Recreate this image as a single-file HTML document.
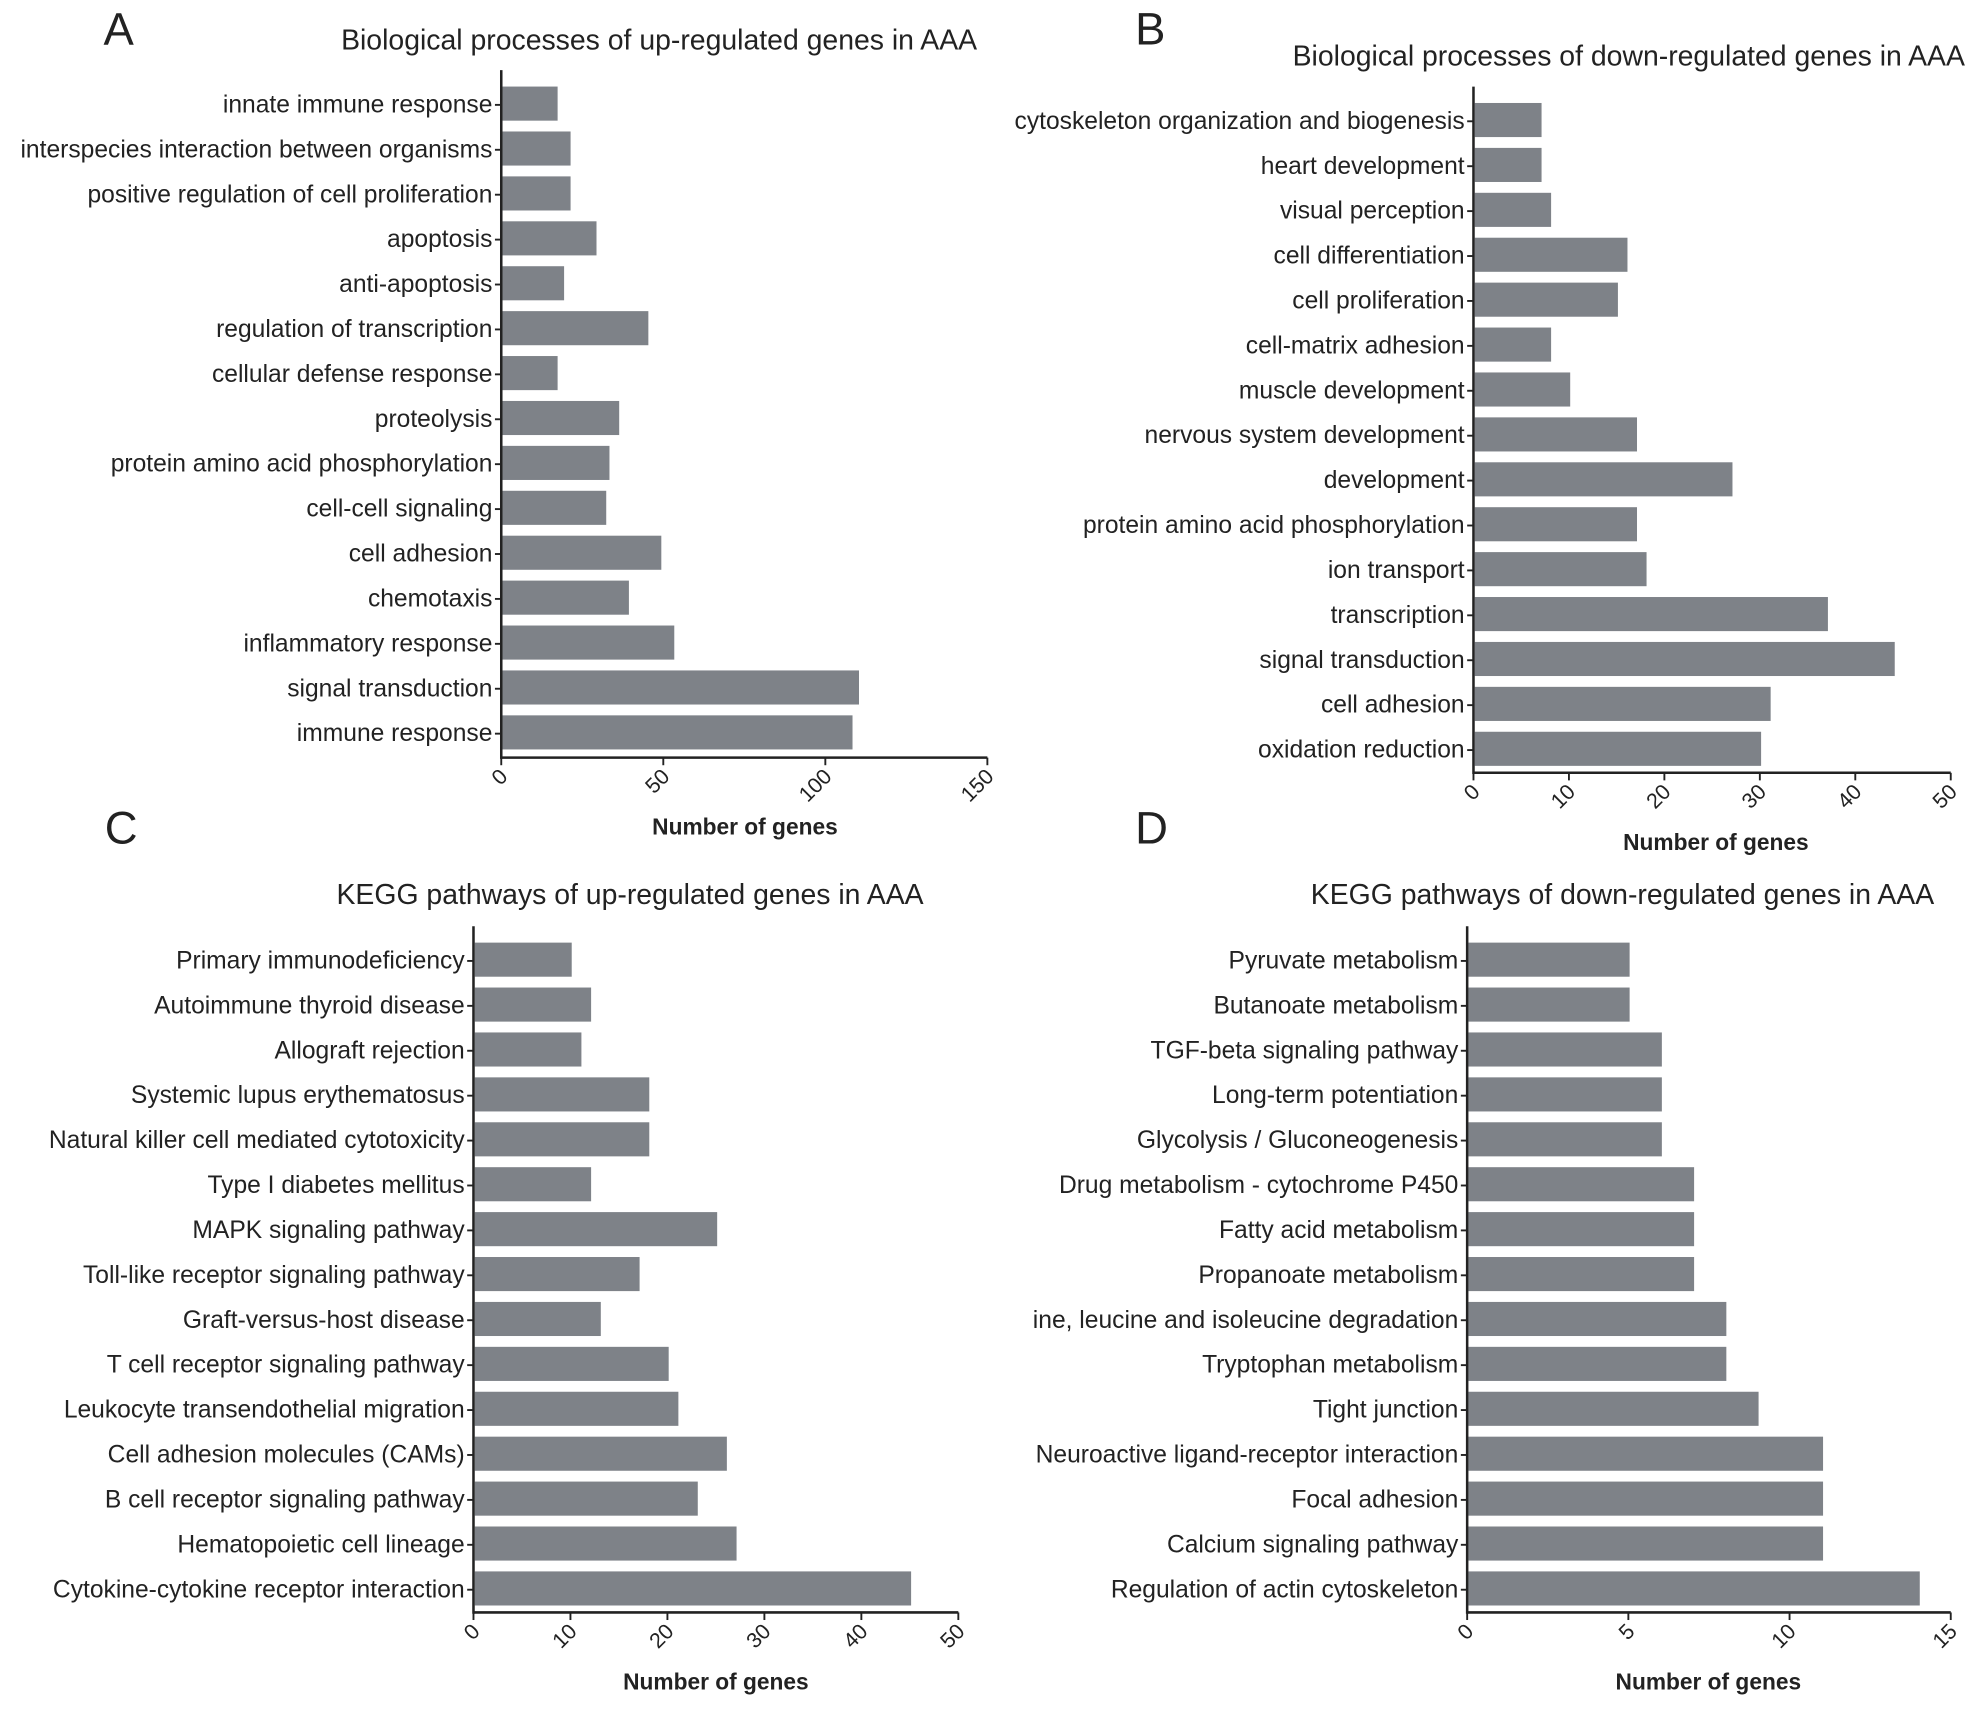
<!DOCTYPE html>
<html><head><meta charset="utf-8"><style>
html,body{margin:0;padding:0;background:#fff;}
svg{display:block;font-family:"Liberation Sans",Arial,sans-serif;}
</style></head><body>
<svg id="fig" width="1976" height="1711" viewBox="0 0 1565 1355" xmlns="http://www.w3.org/2000/svg"></svg>
<script>
const catsA=["innate immune response","interspecies interaction between organisms","positive regulation of cell proliferation","apoptosis","anti-apoptosis","regulation of transcription","cellular defense response","proteolysis","protein amino acid phosphorylation","cell-cell signaling","cell adhesion","chemotaxis","inflammatory response","signal transduction","immune response"];
const valsA=[17,21,21,29,19,45,17,36,33,32,49,39,53,110,108];
const ticksA=[0,50,100,150];
const catsB=["cytoskeleton organization and biogenesis","heart development","visual perception","cell differentiation","cell proliferation","cell-matrix adhesion","muscle development","nervous system development","development","protein amino acid phosphorylation","ion transport","transcription","signal transduction","cell adhesion","oxidation reduction"];
const valsB=[7,7,8,16,15,8,10,17,27,17,18,37,44,31,30];
const ticksB=[0,10,20,30,40,50];
const catsC=["Primary immunodeficiency","Autoimmune thyroid disease","Allograft rejection","Systemic lupus erythematosus","Natural killer cell mediated cytotoxicity","Type I diabetes mellitus","MAPK signaling pathway","Toll-like receptor signaling pathway","Graft-versus-host disease","T cell receptor signaling pathway","Leukocyte transendothelial migration","Cell adhesion molecules (CAMs)","B cell receptor signaling pathway","Hematopoietic cell lineage","Cytokine-cytokine receptor interaction"];
const valsC=[10,12,11,18,18,12,25,17,13,20,21,26,23,27,45];
const ticksC=[0,10,20,30,40,50];
const catsD=["Pyruvate metabolism","Butanoate metabolism","TGF-beta signaling pathway","Long-term potentiation","Glycolysis / Gluconeogenesis","Drug metabolism - cytochrome P450","Fatty acid metabolism","Propanoate metabolism","ine, leucine and isoleucine degradation","Tryptophan metabolism","Tight junction","Neuroactive ligand-receptor interaction","Focal adhesion","Calcium signaling pathway","Regulation of actin cytoskeleton"];
const valsD=[5,5,6,6,6,7,7,7,8,8,9,11,11,11,14];
const ticksD=[0,5,10,15];

const NS="http://www.w3.org/2000/svg";
const svg=document.getElementById('fig');
function mk(tag,attrs,parent,text){const e=document.createElementNS(NS,tag);for(const k in attrs)e.setAttribute(k,attrs[k]);if(text!==undefined)e.textContent=text;(parent||svg).appendChild(e);return e;}

function panel(id,letter,lx,ly,title,tx,ty,cats,vals,ticks,x0,x1,axisY,yTop,yBot,titleX){
  const g=mk('g',{});
  
  
  const max=ticks[ticks.length-1];
  const xs=v=>x0+(x1-x0)*v/max;
  const step=(yBot-yTop)/(cats.length-1);
  const ys=i=>yTop+i*step;
  const bh=27;
  const L=mk('text',{x:lx,y:ly,'font-size':36,fill:'#222'},g,letter);
  
  
  const T=mk('text',{x:tx,y:ty,'font-size':22.5,fill:'#222','text-anchor':'middle'},g,title);
  
  
  cats.forEach((c,i)=>{
    const r=mk('rect',{x:xs(0)+1,y:ys(i)-bh/2-1,width:xs(vals[i])-xs(0),height:bh,fill:'#7e8288'},g);
    
    
    mk('line',{x1:x0-5,x2:x0,y1:ys(i),y2:ys(i),stroke:'#222','stroke-width':1.5},g);
    const t=mk('text',{x:x0-7,y:ys(i)+6,'font-size':19.5,fill:'#222','text-anchor':'end'},g,c);
    
    
  });
  const ax=mk('line',{x1:x0,x2:x0,y1:yTop-bh/2-14,y2:axisY+1,stroke:'#222','stroke-width':2},g);
  
  
  const bx=mk('line',{x1:x0,x2:x1,y1:axisY,y2:axisY,stroke:'#222','stroke-width':2},g);
  
  
  ticks.forEach(v=>{
    mk('line',{x1:xs(v),x2:xs(v),y1:axisY,y2:axisY+6,stroke:'#222','stroke-width':1.5},g);
    const t=mk('text',{x:xs(v)+6,y:axisY+16,'font-size':17,fill:'#222','text-anchor':'end',transform:`rotate(-45 ${xs(v)+6} ${axisY+16})`},g,String(v));
    
    
  });
  const xt=mk('text',{x:titleX,y:axisY+61,'font-size':18,'font-weight':'bold',fill:'#222','text-anchor':'middle'},g,'Number of genes');
  
  
}
panel('a','A',82,35,'Biological processes of up-regulated genes in AAA',522,39,catsA,valsA,ticksA,397,782,600,83,581,590);
panel('b','B',899,35,'Biological processes of down-regulated genes in AAA',1290,52,catsB,valsB,ticksB,1167,1545,612,96,594,1359);
panel('c','C',83,668,'KEGG pathways of up-regulated genes in AAA',499,716,catsC,valsC,ticksC,375,759,1277,761,1259,567);
panel('d','D',899,668,'KEGG pathways of down-regulated genes in AAA',1285,716,catsD,valsD,ticksD,1162,1545,1277,761,1259,1353);
</script>
</body></html>
